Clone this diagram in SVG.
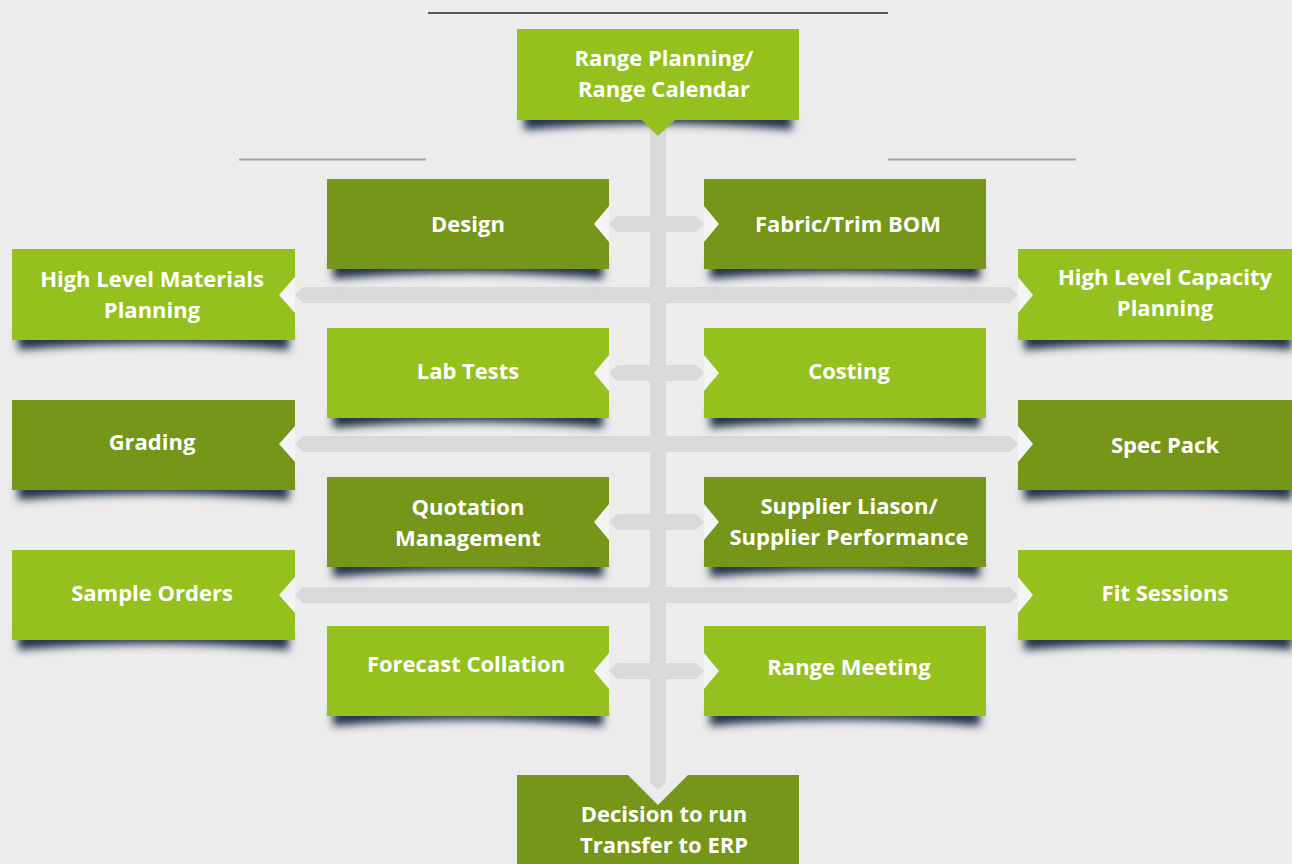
<svg xmlns="http://www.w3.org/2000/svg" width="1292" height="864" viewBox="0 0 1292 864">
<style>
.t{font-family:"Open Sans","Noto Sans",sans-serif;font-weight:700;font-size:22px;fill:#ffffff;text-anchor:middle}
.lg{fill:#95c11f}
.dg{fill:#76961a}
.bar{fill:#d9d9d9}
.notch{fill:#f4f4f4}
.sh{fill:#24324a;filter:url(#blur)}
</style>
<defs>
<filter id="blur" x="-10%" y="-100%" width="120%" height="300%"><feGaussianBlur stdDeviation="4"/></filter>
</defs>
<rect width="1292" height="864" fill="#ececec"/>
<line x1="428" y1="13" x2="888" y2="13" stroke="#555" stroke-width="2"/>
<line x1="239" y1="159.5" x2="426" y2="159.5" stroke="#a8a0b4" stroke-width="2"/>
<line x1="888" y1="159.5" x2="1076" y2="159.5" stroke="#a8a0b4" stroke-width="2"/>

<g id="connectors">
<polygon class="bar" points="650,125 666,125 666,782 658,790 650,782"/>
<polygon class="bar" points="609,224 617,216 696,216 704,224 696,232 617,232"/>
<polygon class="bar" points="295,295 303,287 1010,287 1018,295 1010,303 303,303"/>
<polygon class="bar" points="609,373 617,365 696,365 704,373 696,381 617,381"/>
<polygon class="bar" points="295,444 303,436 1010,436 1018,444 1010,452 303,452"/>
<polygon class="bar" points="609,522 617,514 696,514 704,522 696,530 617,530"/>
<polygon class="bar" points="295,595 303,587 1010,587 1018,595 1010,603 303,603"/>
<polygon class="bar" points="609,671 617,663 696,663 704,671 696,679 617,679"/>
</g>

<g id="n-top">
<path class="sh" d="M524,112 L792,112 L792,130 Q658,118 524,130 Z"/>
<polygon class="lg" points="517,29 799,29 799,120 675,120 658,136 642,120 517,120"/>
<text class="t" x="664" y="66">Range Planning/</text>
<text class="t" x="664" y="97">Range Calendar</text>
</g>

<g id="n-design">
<path class="sh" d="M333,261 L603,261 L603,279 Q468,267 333,279 Z"/>
<rect class="dg" x="327" y="179" width="282" height="90"/>
<polygon class="notch" points="609,206 594,224 609,242"/>
<text class="t" x="468" y="232">Design</text>
</g>
<g id="n-bom">
<path class="sh" d="M710,261 L980,261 L980,279 Q845,267 710,279 Z"/>
<rect class="dg" x="704" y="179" width="282" height="90"/>
<polygon class="notch" points="704,206 719,224 704,242"/>
<text class="t" x="848" y="232">Fabric/Trim BOM</text>
</g>

<g id="n-hlmp">
<path class="sh" d="M18,332 L289,332 L289,350 Q153,338 18,350 Z"/>
<rect class="lg" x="12" y="249" width="283" height="91"/>
<polygon class="notch" points="295,277 279,295 295,313"/>
<text class="t" x="152" y="287">High Level Materials</text>
<text class="t" x="152" y="318">Planning</text>
</g>
<g id="n-hlcp">
<path class="sh" d="M1024,332 L1292,332 L1292,350 Q1160,338 1024,350 Z"/>
<rect class="lg" x="1018" y="249" width="274" height="91"/>
<polygon class="notch" points="1018,277 1033,295 1018,313"/>
<text class="t" x="1165" y="285">High Level Capacity</text>
<text class="t" x="1165" y="316">Planning</text>
</g>

<g id="n-lab">
<path class="sh" d="M333,410 L603,410 L603,428 Q468,416 333,428 Z"/>
<rect class="lg" x="327" y="328" width="282" height="90"/>
<polygon class="notch" points="609,355 594,373 609,391"/>
<text class="t" x="468" y="379">Lab Tests</text>
</g>
<g id="n-costing">
<path class="sh" d="M710,410 L980,410 L980,428 Q845,416 710,428 Z"/>
<rect class="lg" x="704" y="328" width="282" height="90"/>
<polygon class="notch" points="704,355 719,373 704,391"/>
<text class="t" x="849" y="379">Costing</text>
</g>

<g id="n-grading">
<path class="sh" d="M18,482 L289,482 L289,500 Q153,488 18,500 Z"/>
<rect class="dg" x="12" y="400" width="283" height="90"/>
<polygon class="notch" points="295,426 279,444 295,462"/>
<text class="t" x="152" y="450">Grading</text>
</g>
<g id="n-spec">
<path class="sh" d="M1024,482 L1292,482 L1292,500 Q1160,488 1024,500 Z"/>
<rect class="dg" x="1018" y="400" width="274" height="90"/>
<polygon class="notch" points="1018,426 1033,444 1018,462"/>
<text class="t" x="1165" y="453">Spec Pack</text>
</g>

<g id="n-quote">
<path class="sh" d="M333,559 L603,559 L603,577 Q468,565 333,577 Z"/>
<rect class="dg" x="327" y="477" width="282" height="90"/>
<polygon class="notch" points="609,504 594,522 609,540"/>
<text class="t" x="468" y="515">Quotation</text>
<text class="t" x="468" y="546">Management</text>
</g>
<g id="n-supplier">
<path class="sh" d="M710,559 L980,559 L980,577 Q845,565 710,577 Z"/>
<rect class="dg" x="704" y="477" width="282" height="90"/>
<polygon class="notch" points="704,504 719,522 704,540"/>
<text class="t" x="849" y="514">Supplier Liason/</text>
<text class="t" x="849" y="545">Supplier Performance</text>
</g>

<g id="n-sample">
<path class="sh" d="M18,632 L289,632 L289,650 Q153,638 18,650 Z"/>
<rect class="lg" x="12" y="550" width="283" height="90"/>
<polygon class="notch" points="295,577 279,595 295,613"/>
<text class="t" x="152" y="601">Sample Orders</text>
</g>
<g id="n-fit">
<path class="sh" d="M1024,632 L1292,632 L1292,650 Q1160,638 1024,650 Z"/>
<rect class="lg" x="1018" y="550" width="274" height="90"/>
<polygon class="notch" points="1018,577 1033,595 1018,613"/>
<text class="t" x="1165" y="601">Fit Sessions</text>
</g>

<g id="n-forecast">
<path class="sh" d="M333,708 L603,708 L603,726 Q468,714 333,726 Z"/>
<rect class="lg" x="327" y="626" width="282" height="90"/>
<polygon class="notch" points="609,653 594,671 609,689"/>
<text class="t" x="466" y="672">Forecast Collation</text>
</g>
<g id="n-meeting">
<path class="sh" d="M710,708 L980,708 L980,726 Q845,714 710,726 Z"/>
<rect class="lg" x="704" y="626" width="282" height="90"/>
<polygon class="notch" points="704,653 719,671 704,689"/>
<text class="t" x="849" y="675">Range Meeting</text>
</g>

<g id="n-decision">
<polygon class="dg" points="517,775 628,775 658,805 688,775 799,775 799,864 517,864"/>
<text class="t" x="664" y="822">Decision to run</text>
<text class="t" x="664" y="853">Transfer to ERP</text>
</g>
</svg>
